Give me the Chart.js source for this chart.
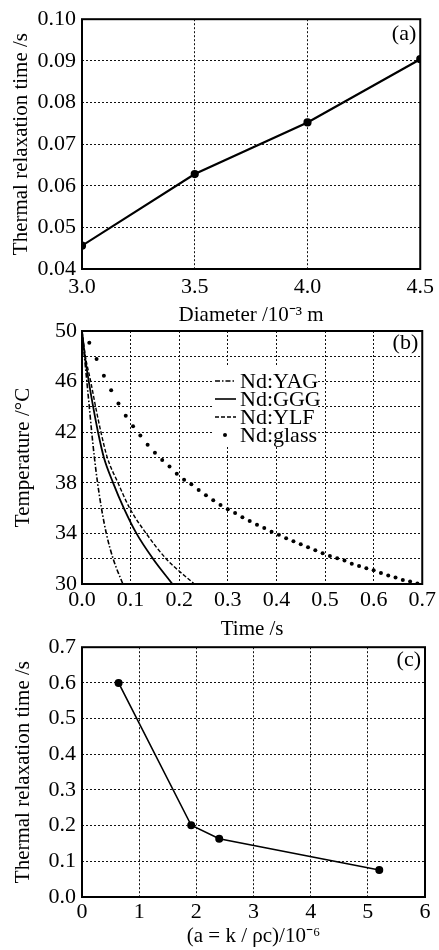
<!DOCTYPE html>
<html><head><meta charset="utf-8">
<script src="https://cdn.jsdelivr.net/npm/chart.js@4/dist/chart.umd.min.js"></script>
<style>
html,body{margin:0;padding:0;background:#fff;}
body{width:439px;height:950px;position:relative;overflow:hidden;}
.box{position:absolute;left:0;width:439px;}
</style></head><body>
<div class="box" style="top:0;height:335px"><canvas id="ca"></canvas></div>
<div class="box" style="top:310px;height:335px"><canvas id="cb"></canvas></div>
<div class="box" style="top:628px;height:322px"><canvas id="cc"></canvas></div>
<script>
// ---------- Panel (a) ----------
const diameters = [3.0, 3.5, 4.0, 4.5];
const relaxTimeA = [0.0456, 0.0628, 0.0752, 0.0904];

// ---------- Panel (b) ----------
const yagTime  = [0, 0.005, 0.010, 0.015, 0.020, 0.0255, 0.032, 0.040, 0.050, 0.064, 0.084];
const yagTemp  = [50, 48, 46, 44, 42, 40, 38, 36, 34, 32, 30];
const gggTime  = [0, 0.006, 0.014, 0.023, 0.033, 0.045, 0.064, 0.086, 0.112, 0.146, 0.186];
const gggTemp  = [50, 48, 46, 44, 42, 40, 38, 36, 34, 32, 30];
const ylfTime  = [0, 0.007, 0.018, 0.028, 0.039, 0.052, 0.074, 0.098, 0.132, 0.173, 0.231];
const ylfTemp  = [50, 48, 46, 44, 42, 40, 38, 36, 34, 32, 30];
const glassTime = [0.015,0.030,0.045,0.060,0.075,0.090,0.105,0.120,0.135,0.150,
                   0.165,0.180,0.195,0.210,0.225,0.240,0.255,0.270,0.285,0.300,
                   0.315,0.330,0.345,0.360,0.375,0.390,0.405,0.420,0.435,0.450,
                   0.465,0.480,0.495,0.510,0.525,0.540,0.555,0.570,0.585,0.600,
                   0.615,0.630,0.645,0.660,0.675,0.690];
const glassTemp = [49.08,47.79,46.47,45.31,44.26,43.31,42.47,41.73,41.01,40.38,
                   39.80,39.28,38.72,38.25,37.88,37.43,37.01,36.62,36.25,35.90,
                   35.62,35.27,34.98,34.69,34.43,34.14,33.90,33.61,33.37,33.14,
                   32.90,32.66,32.43,32.21,32.03,31.85,31.61,31.42,31.24,31.08,
                   30.87,30.68,30.52,30.32,30.19,30.04];
const legendLabelsB = ['Nd:YAG', 'Nd:GGG', 'Nd:YLF', 'Nd:glass'];

// ---------- Panel (c) ----------
const diffusivity = [0.64, 1.91, 2.40, 5.20];
const relaxTimeC  = [0.600, 0.201, 0.163, 0.0755];

const SERIF = "'Liberation Serif', 'Times New Roman', serif";
Chart.defaults.font.family = SERIF;
Chart.defaults.color = '#000';
Chart.defaults.animation = false;

const pairs = (xs, ys) => xs.map((x, i) => ({x: x, y: ys[i]}));

function framePlugin(label, baseOff) {
  return {
    id: 'frame_' + label,
    beforeDatasetsDraw(chart) {
      const a = chart.chartArea, ctx = chart.ctx;
      ctx.save();
      ctx.strokeStyle = '#000';
      ctx.lineWidth = 2;
      ctx.setLineDash([]);
      ctx.strokeRect(a.left, a.top, a.right - a.left, a.bottom - a.top);
      ctx.restore();
    },
    afterDraw(chart) {
      const a = chart.chartArea, ctx = chart.ctx;
      ctx.save();
      ctx.fillStyle = '#000';
      ctx.font = '22px ' + SERIF;
      ctx.textAlign = 'right';
      ctx.textBaseline = 'alphabetic';
      ctx.fillText(label, a.right - 4, a.top + baseOff);
      ctx.restore();
    }
  };
}

function grid() {
  return { color: '#111', lineWidth: 1, drawTicks: false };
}
function border() {
  return { display: false, dash: [2, 2] };
}

function xAxis(min, max, step, dec, title, h, tickPad, titlePad) {
  return {
    type: 'linear', min: min, max: max,
    afterFit: s => { s.height = h; },
    grid: grid(),
    border: border(),
    ticks: { stepSize: step, autoSkip: false, maxRotation: 0, padding: tickPad,
             font: { size: 22 }, callback: v => Number(v).toFixed(dec) },
    title: { display: true, text: title, font: { size: 21 }, padding: { top: 0, bottom: titlePad } }
  };
}
function yAxis(min, max, step, cb, title, tickPad, titlePad) {
  return {
    min: min, max: max,
    afterFit: s => { s.width = 82; },
    grid: grid(),
    border: border(),
    ticks: { stepSize: step, autoSkip: false, padding: tickPad, font: { size: 22 }, callback: cb },
    title: { display: true, text: title, font: { size: 21 }, padding: { top: titlePad, bottom: 0 } }
  };
}

// Chart (a)
new Chart(document.getElementById('ca'), {
  type: 'line',
  data: { datasets: [{
    data: pairs(diameters, relaxTimeA),
    borderColor: '#000', backgroundColor: '#000', borderWidth: 2.2,
    pointRadius: 3, pointBackgroundColor: '#000', tension: 0
  }]},
  options: {
    responsive: true, maintainAspectRatio: false,
    layout: { padding: { top: 17, right: 14, left: 0, bottom: 0 } },
    plugins: { legend: { display: false }, tooltip: { enabled: false } },
    scales: {
      x: xAxis(3.0, 4.5, 0.5, 1, 'Diameter /10\u207B\u00B3 m', 66, 5, 7),
      y: yAxis(0.04, 0.10, 0.01, v => Number(v).toFixed(2), 'Thermal relaxation time /s', 6, 8.5)
    }
  },
  plugins: [framePlugin('(a)', 21)]
});

// Chart (b)
const legendB = {
  id: 'legendB',
  afterDatasetsDraw(chart) {
    const ctx = chart.ctx;
    const top = 310;
    ctx.save();
    ctx.fillStyle = '#fff';
    ctx.fillRect(213, 366 - top, 105, 81);
    const ys = [381, 399, 417, 435].map(v => v - top);
    const dashes = [[5, 2, 1.5, 2], [], [4, 2], null];
    ctx.strokeStyle = '#000';
    ctx.fillStyle = '#000';
    ctx.lineWidth = 1.6;
    for (let i = 0; i < 4; i++) {
      if (dashes[i]) {
        ctx.setLineDash(dashes[i]);
        ctx.beginPath(); ctx.moveTo(215, ys[i]); ctx.lineTo(236, ys[i]); ctx.stroke();
      } else {
        ctx.beginPath(); ctx.arc(225, ys[i], 2, 0, Math.PI * 2); ctx.fill();
      }
    }
    ctx.setLineDash([]);
    ctx.font = '22px ' + SERIF;
    ctx.textAlign = 'left';
    ctx.textBaseline = 'middle';
    for (let i = 0; i < 4; i++) ctx.fillText(legendLabelsB[i], 240, ys[i] + 1);
    ctx.restore();
  }
};

new Chart(document.getElementById('cb'), {
  type: 'line',
  data: { datasets: [
    { label: legendLabelsB[0], data: pairs(yagTime, yagTemp), borderColor: '#000', borderWidth: 1.6,
      borderDash: [5, 2, 1.5, 2], pointRadius: 0, cubicInterpolationMode: 'monotone' },
    { label: legendLabelsB[1], data: pairs(gggTime, gggTemp), borderColor: '#000', borderWidth: 1.8,
      pointRadius: 0, cubicInterpolationMode: 'monotone' },
    { label: legendLabelsB[2], data: pairs(ylfTime, ylfTemp), borderColor: '#000', borderWidth: 1.4,
      borderDash: [4, 2], pointRadius: 0, cubicInterpolationMode: 'monotone' },
    { label: legendLabelsB[3], data: pairs(glassTime, glassTemp), showLine: false,
      pointRadius: 2, pointBackgroundColor: '#000', pointBorderWidth: 0, borderColor: '#000' }
  ]},
  options: {
    responsive: true, maintainAspectRatio: false,
    layout: { padding: { top: 21, right: 14, left: 0, bottom: 0 } },
    plugins: { legend: { display: false }, tooltip: { enabled: false } },
    scales: {
      x: xAxis(0, 0.7, 0.1, 1, 'Time /s', 61, 3, 3.4),
      y: yAxis(30, 50, 2, v => ((v - 30) % 4 === 0 ? String(v) : ''), 'Temperature /\u00B0C', 5, 11)
    }
  },
  plugins: [framePlugin('(b)', 18), legendB]
});

// Chart (c)
new Chart(document.getElementById('cc'), {
  type: 'line',
  data: { datasets: [{
    data: pairs(diffusivity, relaxTimeC),
    borderColor: '#000', backgroundColor: '#000', borderWidth: 1.6,
    pointRadius: 3.2, pointBackgroundColor: '#000', tension: 0
  }]},
  options: {
    responsive: true, maintainAspectRatio: false,
    layout: { padding: { top: 16, right: 14, left: 0, bottom: 0 } },
    plugins: { legend: { display: false }, tooltip: { enabled: false } },
    scales: {
      x: xAxis(0, 6, 1, 0, '(a = k / \u03C1c)/10\u207B\u2076', 53, 2.3, 1.4),
      y: yAxis(0, 0.7, 0.1, v => Number(v).toFixed(1), 'Thermal relaxation time /s', 6, 10.4)
    }
  },
  plugins: [framePlugin('(c)', 19)]
});
</script>
</body></html>
